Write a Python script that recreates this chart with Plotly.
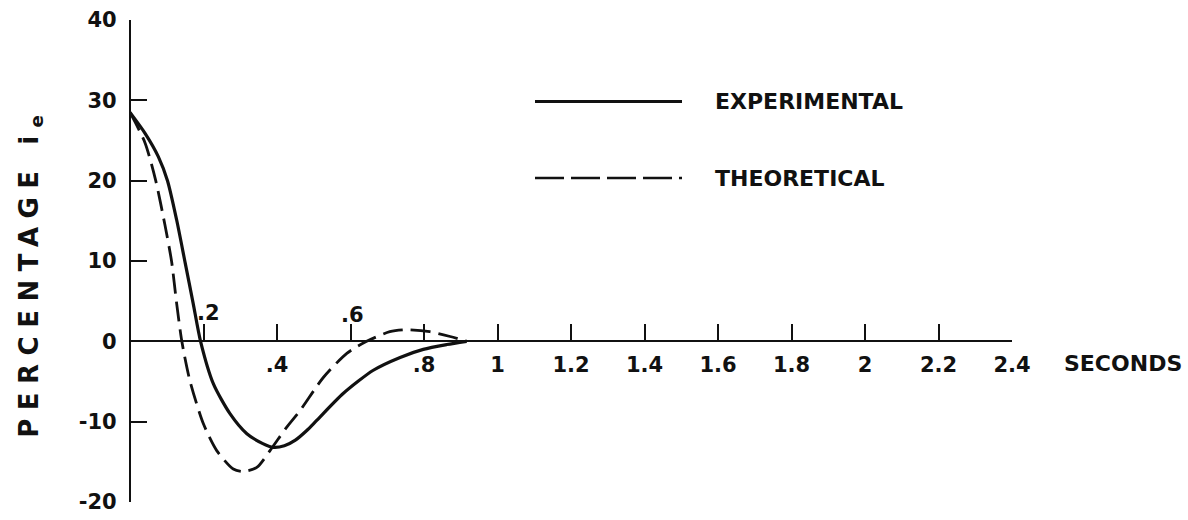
import plotly.graph_objects as go

# Percentage i_e against time (seconds)
t_experimental = [0, 0.041, 0.077, 0.102, 0.127, 0.150, 0.172, 0.192, 0.227, 0.272,
                  0.318, 0.360, 0.390, 0.420, 0.450, 0.481, 0.508, 0.580, 0.662,
                  0.735, 0.798, 0.862, 0.916]
i_experimental = [28.5, 25.9, 23.0, 20.0, 15.1, 9.8, 4.7, 0.0, -5.3, -9.0,
                  -11.5, -12.7, -13.2, -13.0, -12.3, -11.1, -9.85, -6.5, -3.6,
                  -2.0, -1.0, -0.4, 0.0]

t_theoretical = [0, 0.041, 0.070, 0.095, 0.113, 0.127, 0.141, 0.163, 0.200, 0.236,
                 0.281, 0.308, 0.345, 0.381, 0.426, 0.463, 0.526, 0.590, 0.644,
                 0.707, 0.753, 0.816, 0.871, 0.916]
i_theoretical = [28.5, 24.7, 20.0, 14.5, 10.0, 4.7, 0.0, -4.9, -10.3, -13.6,
                 -15.9, -16.2, -15.7, -13.6, -10.7, -8.6, -4.5, -1.5, 0.0,
                 1.2, 1.45, 1.2, 0.6, 0.0]

# labelled ticks below the time axis
x_tick_values = [0.4, 0.8, 1.0, 1.2, 1.4, 1.6, 1.8, 2.0, 2.2, 2.4]
x_tick_text = [".4", ".8", "1", "1.2", "1.4", "1.6", "1.8", "2", "2.2", "2.4"]
# ticks whose labels sit above the time axis
x_upper_values = [0.2, 0.6]
x_upper_text = [".2", ".6"]

y_tick_values = [-20, -10, 0, 10, 20, 30, 40]
y_tick_text = ["-20", "-10", "0", "10", "20", "30", "40"]

series_names = ["EXPERIMENTAL", "THEORETICAL"]

W, H = 1188, 520
FONT = "DejaVu Sans"
INK = "#111111"

fig = go.Figure()

fig.add_trace(go.Scatter(
    x=t_experimental, y=i_experimental, mode="lines", name=series_names[0],
    line=dict(color=INK, width=3.2, shape="spline", smoothing=0.7),
    showlegend=False,
))
fig.add_trace(go.Scatter(
    x=t_theoretical, y=i_theoretical, mode="lines", name=series_names[1],
    line=dict(color=INK, width=2.8, dash="20px,8px", shape="spline", smoothing=0.7),
    showlegend=False,
))

# axes: time axis crosses at i_e = 0, percentage axis at t = 0
x_left, x_right = 130 / W, 1012 / W
y_bottom, y_top = 18 / H, 500 / H
zero_level = y_bottom + (y_top - y_bottom) * (0 - (-20)) / 60

fig.update_layout(
    template="none",
    width=W, height=H, autosize=False,
    margin=dict(l=0, r=0, t=0, b=0, pad=0),
    paper_bgcolor="white", plot_bgcolor="white",
    font=dict(family=FONT, color=INK),
    showlegend=False,
    xaxis=dict(
        domain=[x_left, x_right], range=[0, 2.4], automargin=False,
        anchor="free", position=zero_level,
        showline=True, linecolor=INK, linewidth=2,
        ticks="inside", ticklen=16, tickwidth=1.7, tickcolor=INK,
        tickvals=x_tick_values, ticktext=x_tick_text,
        tickfont=dict(family=FONT, size=21, color=INK, weight="bold"),
        ticklabelstandoff=4,
        minor=dict(tickmode="array", tickvals=x_upper_values, ticks="inside",
                   ticklen=16, tickwidth=1.7, tickcolor=INK, showgrid=False),
        showgrid=False, zeroline=False, fixedrange=True,
    ),
    yaxis=dict(
        domain=[y_bottom, y_top], range=[-20, 40], automargin=False,
        anchor="free", position=x_left,
        showline=True, linecolor=INK, linewidth=2.2,
        ticks="inside", ticklen=16, tickwidth=1.7, tickcolor=INK,
        tickvals=y_tick_values, ticktext=y_tick_text,
        tickfont=dict(family=FONT, size=21, color=INK, weight="bold"),
        ticklabelstandoff=8,
        showgrid=False, zeroline=False, fixedrange=True,
    ),
)

# upper tick labels at .2 and .6
for xv, txt, dx, dy in zip(x_upper_values, x_upper_text, [5, 2], [28, 26]):
    fig.add_annotation(
        x=xv, y=0, xref="x", yref="y", text=txt, showarrow=False,
        xshift=dx, yshift=dy, xanchor="center", yanchor="middle",
        font=dict(family=FONT, size=21, color=INK, weight="bold"),
    )

# axis titles
fig.add_annotation(
    x=30.5 / W, y=(H - 272) / H, xref="paper", yref="paper",
    text="PERCENTAGE i<sub>e</sub>", textangle=-90, showarrow=False,
    xanchor="center", yanchor="middle",
    font=dict(family=FONT, size=26, color=INK, weight="bold"),
)
fig.add_annotation(
    x=1062 / W, y=(H - 363) / H, xref="paper", yref="paper",
    text="SECONDS", showarrow=False, xanchor="left", yanchor="middle",
    font=dict(family=FONT, size=22, color=INK, weight="bold"),
)

# key: line samples with their labels
key_x0, key_x1, key_text_x = 535 / W, 682 / W, 713 / W
key_rows = [(H - 101.5) / H, (H - 178) / H]
key_dash = ["solid", "29px,7px"]
key_width = [2.8, 2.6]
for row_y, name, dash, lw in zip(key_rows, series_names, key_dash, key_width):
    fig.add_shape(
        type="line", xref="paper", yref="paper",
        x0=key_x0, x1=key_x1, y0=row_y, y1=row_y,
        line=dict(color=INK, width=lw, dash=dash),
    )
    fig.add_annotation(
        x=key_text_x, y=row_y, xref="paper", yref="paper", text=name,
        showarrow=False, xanchor="left", yanchor="middle",
        font=dict(family=FONT, size=22, color=INK, weight="bold"),
    )

# widen the lettering of the vertical title
spacing_js = """
var gd = document.getElementById('{plot_id}');
gd.querySelectorAll('text.annotation-text').forEach(function (t) {
  if (t.textContent.indexOf('PERCENTAGE') === 0) { t.style.letterSpacing = '8.5px'; }
});
"""

fig.write_html("out.html", include_plotlyjs=True, full_html=True,
               config={"displayModeBar": False}, post_script=spacing_js)
